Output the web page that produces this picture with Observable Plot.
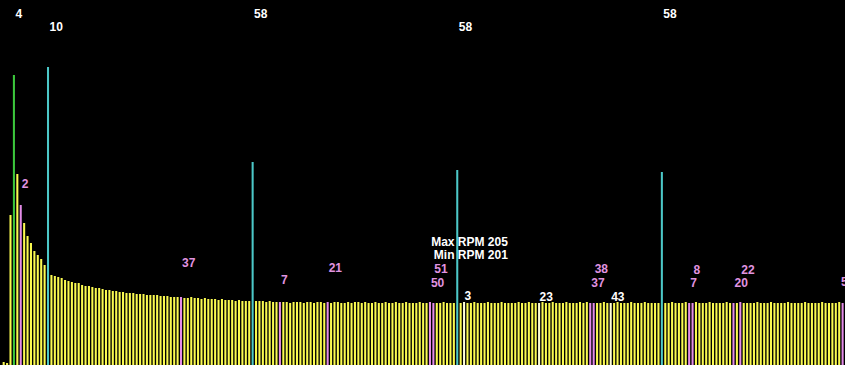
<!DOCTYPE html>
<html>
<head>
<meta charset="utf-8">
<script src="https://cdn.jsdelivr.net/npm/d3@7"></script>
<script src="https://cdn.jsdelivr.net/npm/@observablehq/plot@0.6"></script>
<style>
  html, body { margin: 0; padding: 0; background: #000; overflow: hidden; }
  #chart svg { display: block; }
</style>
</head>
<body>
<div id="chart"></div>
<script>
// bar heights, one per bar index 0..246
const barValues = [
  3, 2, 150, 290, 191, 160, 142, 129, 122, 114, 110, 106, 100, 298,
  90, 89, 88, 87, 85, 84, 83, 82, 82, 80, 79, 79, 78, 77, 77, 76, 75, 75, 74, 74,
  73, 73, 72, 72, 72, 71, 71, 71, 70, 70, 70, 70, 69, 69, 69, 68, 68, 68, 68, 67,
  67, 68, 67, 67, 66, 67, 66, 66, 66, 65, 66, 65, 65, 65, 64, 65, 64, 64, 64,
  203,
  64, 64, 64, 63, 64, 63, 63, 63, 63, 63, 62, 63, 63, 63, 62, 63, 63, 62, 63, 63,
  62, 63, 62, 63, 63, 62, 62, 63, 62, 63, 63, 62, 63, 62, 62, 63, 62, 62, 63, 62,
  62, 63, 62, 62, 63, 62, 62, 62, 63, 62, 62, 63, 62, 62, 62, 63, 62, 62, 62,
  195,
  62, 63, 62, 62, 63, 62, 62, 62, 63, 62, 62, 62, 63, 62, 62, 62, 62, 63, 62, 62,
  63, 62, 62, 62, 63, 62, 62, 63, 62, 62, 62, 63, 62, 62, 62, 63, 62, 63, 62, 62,
  62, 62, 63, 62, 62, 62, 63, 62, 62, 62, 63, 62, 62, 62, 63, 62, 62, 62, 62,
  193,
  62, 62, 63, 62, 62, 62, 63, 62, 62, 63, 62, 62, 62, 63, 62, 62, 62, 62, 63, 62,
  62, 62, 63, 62, 62, 62, 62, 63, 62, 62, 62, 63, 62, 62, 62, 62, 63, 62, 62, 62,
  62, 63, 62, 62, 62, 62, 63, 62, 62, 62, 62, 63, 62
];

// highlighted bar indices
const greenBars = [3];
const cyanBars = [13, 73, 133, 193];
const pinkBars = [5, 52, 81, 95, 125, 126, 172, 173, 201, 202, 214, 216, 246];
const whiteBars = [135, 157, 178];

// labels on top (row 0 = upper line, row 1 = lower line)
const topLabelBars = [3, 13, 73, 133, 193];
const topLabelTexts = ["4", "10", "58", "58", "58"];
const topLabelRows = [0, 1, 0, 1, 0];

// pink labels near bars (bar index, text, label height in value units)
const pinkLabelBars = [5, 52, 81, 95, 125, 126, 172, 173, 201, 202, 214, 216, 246];
const pinkLabelTexts = ["2", "37", "7", "21", "50", "51", "37", "38", "7", "8", "20", "22", "5"];
const pinkLabelLevels = [181, 102, 85, 97, 82, 96, 82, 96, 82, 95, 82, 95, 83];

// white labels
const whiteLabelBars = [135, 157, 178];
const whiteLabelTexts = ["3", "23", "43"];
const whiteLabelLevels = [69, 68, 68];

// RPM annotation
const rpmLines = ["Max RPM 205", "Min RPM 201"];
const rpmLevels = [123, 110];
const rpmBar = 148;

const bars = barValues.map((v, i) => ({i, v}));
const colorOf = new Map();
greenBars.forEach(i => colorOf.set(i, "green"));
cyanBars.forEach(i => colorOf.set(i, "cyan"));
pinkBars.forEach(i => colorOf.set(i, "pink"));
whiteBars.forEach(i => colorOf.set(i, "white"));
const cat = d => colorOf.get(d.i) || "yellow";

const topLabels = topLabelBars.map((i, k) => ({i, t: topLabelTexts[k], row: topLabelRows[k]}));
const pinkLabels = pinkLabelBars.map((i, k) => ({i, t: pinkLabelTexts[k], y: pinkLabelLevels[k]}));
const whiteLabels = whiteLabelBars.map((i, k) => ({i, t: whiteLabelTexts[k], y: whiteLabelLevels[k]}));
const rpm = rpmLines.map((t, k) => ({i: rpmBar, t, y: rpmLevels[k]}));

const font = {fontFamily: "Liberation Sans, Arial, sans-serif", fontSize: 12, fontWeight: "bold"};
const barW = 0.6;
const barMark = (c, fill) => Plot.rectY(bars.filter(d => cat(d) === c), {
  x1: "i", x2: d => d.i + barW, y1: 0, y2: "v", fill
});
const lastBar = barValues.length - 1;
const pinkText = (data, dx) => Plot.text(data, {x: "i", y: "y", text: "t", dx, textAnchor: "start", lineAnchor: "middle", fill: "#e094e0", ...font});

const chart = Plot.plot({
  width: 845,
  height: 365,
  margin: 0,
  style: {background: "#000"},
  x: {type: "linear", domain: [-0.78, 247.0], axis: null},
  y: {domain: [0, 365], axis: null},
  marks: [
    barMark("yellow", "#fafa50"),
    barMark("white", "#ffffd8"),
    barMark("pink", "#e48ce8"),
    barMark("green", "#3cc83c"),
    barMark("cyan", "#4cc8c8"),
    Plot.text(topLabels.filter(d => d.row === 0), {x: "i", text: "t", frameAnchor: "top", dy: 14, dx: 2, textAnchor: "start", lineAnchor: "middle", fill: "#fff", ...font}),
    Plot.text(topLabels.filter(d => d.row === 1), {x: "i", text: "t", frameAnchor: "top", dy: 27, dx: 2, textAnchor: "start", lineAnchor: "middle", fill: "#fff", ...font}),
    pinkText(pinkLabels.filter(d => d.i !== lastBar), 1.5),
    pinkText(pinkLabels.filter(d => d.i === lastBar), -1),
    Plot.text(whiteLabels, {x: "i", y: "y", text: "t", dx: 1, textAnchor: "start", lineAnchor: "middle", fill: "#fff", ...font}),
    Plot.text(rpm, {x: "i", y: "y", text: "t", textAnchor: "end", lineAnchor: "middle", fill: "#fff", ...font})
  ]
});
document.getElementById("chart").appendChild(chart);
</script>
</body>
</html>
